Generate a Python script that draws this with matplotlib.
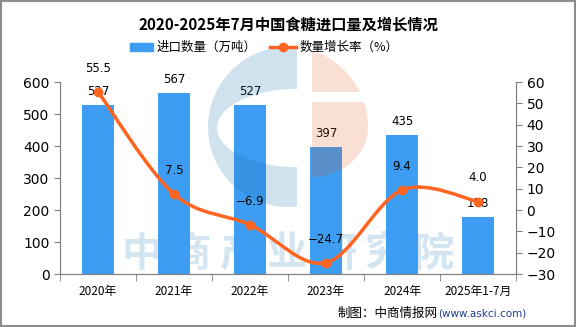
import matplotlib.pyplot as plt
import numpy as np
from matplotlib.path import Path
from matplotlib.patches import PathPatch, Polygon

plt.rcParams['font.family'] = ['Noto Sans CJK SC', 'DejaVu Sans']

years = ["2020年", "2021年", "2022年", "2023年", "2024年", "2025年1-7月"]
imports = [527, 567, 527, 397, 435, 178]
growth = [55.5, 7.5, -6.9, -24.7, 9.4, 4.0]

bar_color = '#3D9DF2'
line_color = '#FF6420'
axis_color = '#808080'
W, H = 576, 327

fig = plt.figure(figsize=(5.76, 3.27), dpi=100)
ax = fig.add_axes([0.104, 0.162, 0.792, 0.587])
ax2 = ax.twinx()

# faint watermark text, under the bars
for i, ch in enumerate("中商产业研究院"):
    ax.text((142 + i * 48.5) / W, 1 - 254 / H, ch, transform=fig.transFigure, ha='center',
            va='center', fontsize=29, fontweight='bold', color='#D3E5F0', zorder=1, clip_on=False)

x = np.arange(len(years))
ax.bar(x, imports, width=0.41, color=bar_color, zorder=2)
for xi, v in zip(x, imports):
    ax.text(xi, v + 22, str(v), ha='center', va='bottom', fontsize=8.5, family='DejaVu Sans', zorder=3)

ax.set_xlim(-0.5, len(years) - 0.5)
ax.set_ylim(0, 600)
ax.set_yticks(range(0, 601, 100))
ax2.set_ylim(-30, 60)
ax2.set_yticks(range(-30, 61, 10))

# logo watermark, in pixel coordinates, drawn over the bars
lg = fig.add_axes([0, 0, 1, 1])
lg.set_xlim(0, W)
lg.set_ylim(H, 0)
lg.axis('off')
cx, cy, R = 288, 127, 80
# blue C shape
t0 = np.arccos((297 - cx) / R)
ang = np.linspace(-t0, -(2 * np.pi - t0), 120)
outer = np.column_stack([cx + R * np.cos(ang), cy + R * np.sin(ang)])
ea = np.linspace(-np.pi / 2, -3 * np.pi / 2, 80)
hole = np.column_stack([297 + 80 * np.cos(ea), 128 + 39 * np.sin(ea)])[::-1]
blue_poly = np.vstack([outer, hole])
lg.add_patch(Polygon(blue_poly, closed=True, facecolor=(0.1, 0.43, 0.69), alpha=0.2, lw=0))
# orange pieces
ta = np.arccos((312 - cx) / R)
tb = np.arcsin((92 - cy) / R)
a1 = np.linspace(-ta, tb, 40)
top = np.vstack([[312, 92], np.column_stack([cx + R * np.cos(a1), cy + R * np.sin(a1)])])
a2 = np.linspace(np.arcsin((102 - cy) / R), 0, 20)
ea2 = np.linspace(0, np.pi / 2, 40)
bot = np.vstack([[312, 102], np.column_stack([cx + R * np.cos(a2), cy + R * np.sin(a2)]),
                 np.column_stack([312 + 56 * np.cos(ea2), 127 + 50 * np.sin(ea2)])])
for poly in (top, bot):
    lg.add_patch(Polygon(poly, closed=True, facecolor=(0.91, 0.31, 0.08), alpha=0.175, lw=0))

ax.set_zorder(0)
lg.set_zorder(0.5)
ax2.set_zorder(1)

# smooth curve through the growth points (Catmull-Rom as bezier segments)
pts = np.column_stack([x, growth]).astype(float)
verts = [tuple(pts[0])]
codes = [Path.MOVETO]
for i in range(len(pts) - 1):
    p0 = pts[i - 1] if i > 0 else pts[i]
    p1, p2 = pts[i], pts[i + 1]
    p3 = pts[i + 2] if i + 2 < len(pts) else pts[i + 1]
    c1 = p1 + (p2 - p0) / 6
    c2 = p2 - (p3 - p1) / 6
    verts += [tuple(c1), tuple(c2), tuple(p2)]
    codes += [Path.CURVE4] * 3
ax2.add_patch(PathPatch(Path(verts, codes), fill=False, edgecolor=line_color, lw=2.5, zorder=3))
ax2.plot(x, growth, 'o', color=line_color, ms=6, zorder=4)
for xi, g in zip(x, growth):
    ax2.text(xi, g + 8, f"{g:.1f}".replace('-', '−'), ha='center', va='bottom', fontsize=8.5,
             family='DejaVu Sans')

for a in (ax, ax2):
    a.spines['top'].set_visible(False)
    for s in ('left', 'right', 'bottom'):
        a.spines[s].set_color(axis_color)
    a.tick_params(colors=axis_color, labelcolor='black', labelsize=10, length=4)
    for lbl in a.get_yticklabels():
        lbl.set_family('DejaVu Sans')

ax.set_xticks(x)
ax.set_xticklabels(years, fontsize=8.5)
ax.tick_params(axis='x', length=0, pad=8)
ax.set_xticks(np.arange(-0.5, len(years), 1), minor=True)
ax.tick_params(axis='x', which='minor', length=5, color=axis_color)

# title and legend
fig.text(0.5, 0.924, "2020-2025年7月中国食糖进口量及增长情况", ha='center', va='center',
         fontsize=11, fontweight='bold')
ly = 1 - 47 / H
fig.patches.append(plt.Rectangle((130 / W, ly - 4 / H), 23 / W, 8 / H, transform=fig.transFigure,
                                 color=bar_color, figure=fig))
fig.text(157 / W, ly, "进口数量（万吨）", ha='left', va='center', fontsize=9)
fig.lines.append(plt.Line2D([270 / W, 296 / W], [ly, ly], transform=fig.transFigure,
                            color=line_color, lw=2.5))
fig.lines.append(plt.Line2D([283 / W], [ly], transform=fig.transFigure,
                            color=line_color, marker='o', ms=6))
fig.text(300 / W, ly, "数量增长率（%）", ha='left', va='center', fontsize=9)

fig.text(438 / W, 1 - 313 / H, "制图：中商情报网", ha='right', va='center', fontsize=9)
fig.text(438 / W, 1 - 313 / H, "(www.askci.com)", ha='left', va='center', fontsize=7.5,
         color='#1F3C88', family='DejaVu Sans')

fig.patches.append(plt.Rectangle((0.001, 0.002), 0.997, 0.995, transform=fig.transFigure,
                                 fill=False, edgecolor='#8C8C8C', lw=1.5, figure=fig))

fig.savefig("out.png", dpi=100)
